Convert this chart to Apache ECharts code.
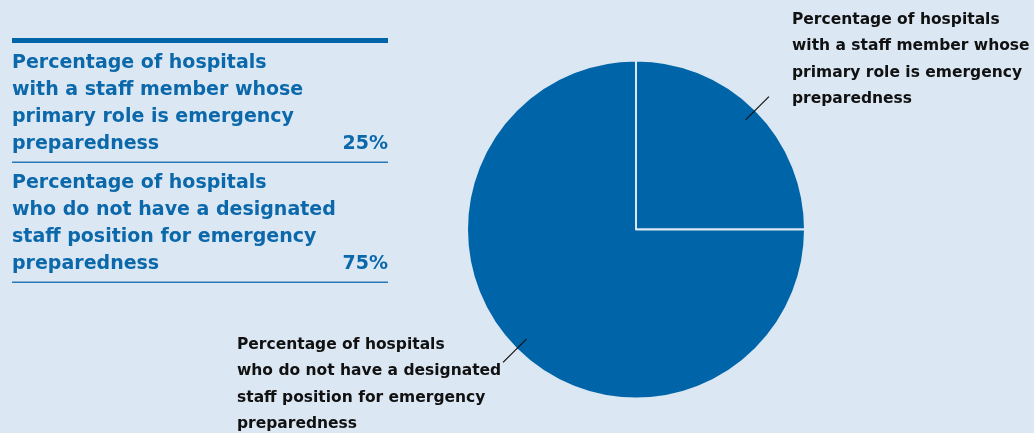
<!DOCTYPE html>
<html>
<head>
<meta charset="utf-8">
<script src="https://cdn.jsdelivr.net/npm/echarts@6/dist/echarts.min.js"></script>
<style>
  html, body { margin: 0; padding: 0; background: #dbe7f3; }
  #chart { width: 1034px; height: 433px; }
</style>
</head>
<body>
<div id="chart"></div>
<script>
// Survey categories and their shares (percent)
const categories = [
  'Percentage of hospitals\nwith a staff member whose\nprimary role is emergency\npreparedness',
  'Percentage of hospitals\nwho do not have a designated\nstaff position for emergency\npreparedness'
];
const shares = [25, 75];
const shareLabels = ['25%', '75%'];

const BG = '#dbe7f3';
const BLUE = '#0065a8';
const TEXT_BLUE = '#0b68ab';
const FONT = '"DejaVu Sans", sans-serif';

const chart = echarts.init(document.getElementById('chart'), null, { renderer: 'canvas' });

// Side table: one block per category with its share at the right
const tableX = 12, tableW = 376, tableTop = 38;
const rowH = 120, lineH = 27;
const tableGraphics = [
  { type: 'rect', left: tableX, top: tableTop, shape: { width: tableW, height: 5 }, style: { fill: BLUE } }
];
categories.forEach((name, i) => {
  const rowTop = tableTop + 5 + i * rowH;
  const lines = name.split('\n');
  tableGraphics.push({
    type: 'text', left: tableX, top: rowTop + 6.5,
    style: { text: name, font: 'bold 19px ' + FONT, fill: TEXT_BLUE, lineHeight: lineH }
  });
  tableGraphics.push({
    type: 'text', right: 1034 - (tableX + tableW), top: rowTop + 6.5 + (lines.length - 1) * lineH,
    style: { text: shareLabels[i], font: 'bold 19px ' + FONT, fill: TEXT_BLUE, lineHeight: lineH, align: 'right' }
  });
  tableGraphics.push({
    type: 'rect', left: tableX, top: rowTop + rowH - 1.5, shape: { width: tableW, height: 1.5 },
    style: { fill: '#2a78b5' }
  });
});

// Label placement for each slice (left edge / top of the text block)
const labelSpots = [
  { x: 792, y: 6.5, align: 'left', verticalAlign: 'top' },
  { x: 237, y: 331.5, align: 'left', verticalAlign: 'top' }
];

const pieCenter = [636, 229.5];
const pieData = categories.map((name, i) => ({ name: name, value: shares[i] }));

chart.setOption({
  backgroundColor: BG,
  animation: false,
  graphic: tableGraphics,
  series: [
    // the filled pie
    {
      type: 'pie',
      center: pieCenter,
      radius: [0, 169],
      startAngle: 90,
      clockwise: true,
      silent: true,
      data: pieData,
      itemStyle: { color: BLUE, borderColor: BG, borderWidth: 2 },
      label: { show: false },
      labelLine: { show: false }
    },
    // transparent copy carrying the labels, so leader lines start inside the slices
    {
      type: 'pie',
      center: pieCenter,
      radius: [0, 155],
      startAngle: 90,
      clockwise: true,
      silent: true,
      z: 3,
      data: pieData,
      itemStyle: { color: 'rgba(0,0,0,0)', borderWidth: 0 },
      label: {
        show: true,
        position: 'outside',
        formatter: '{b}',
        color: '#111111',
        fontFamily: FONT,
        fontWeight: 'bold',
        fontSize: 15.5,
        lineHeight: 26.5,
        align: 'left'
      },
      labelLine: {
        show: true,
        length: 33,
        length2: 0,
        smooth: false,
        lineStyle: { color: '#111111', width: 1.2 }
      },
      labelLayout: function (params) {
        const spot = labelSpots[params.dataIndex];
        const pts = params.labelLinePoints;
        const out = { x: spot.x, y: spot.y, align: spot.align, verticalAlign: spot.verticalAlign };
        if (pts && pts.length >= 2) {
          out.labelLinePoints = [[pts[0][0], pts[0][1]], [pts[1][0], pts[1][1]]];
        }
        return out;
      }
    }
  ]
});
</script>
</body>
</html>
